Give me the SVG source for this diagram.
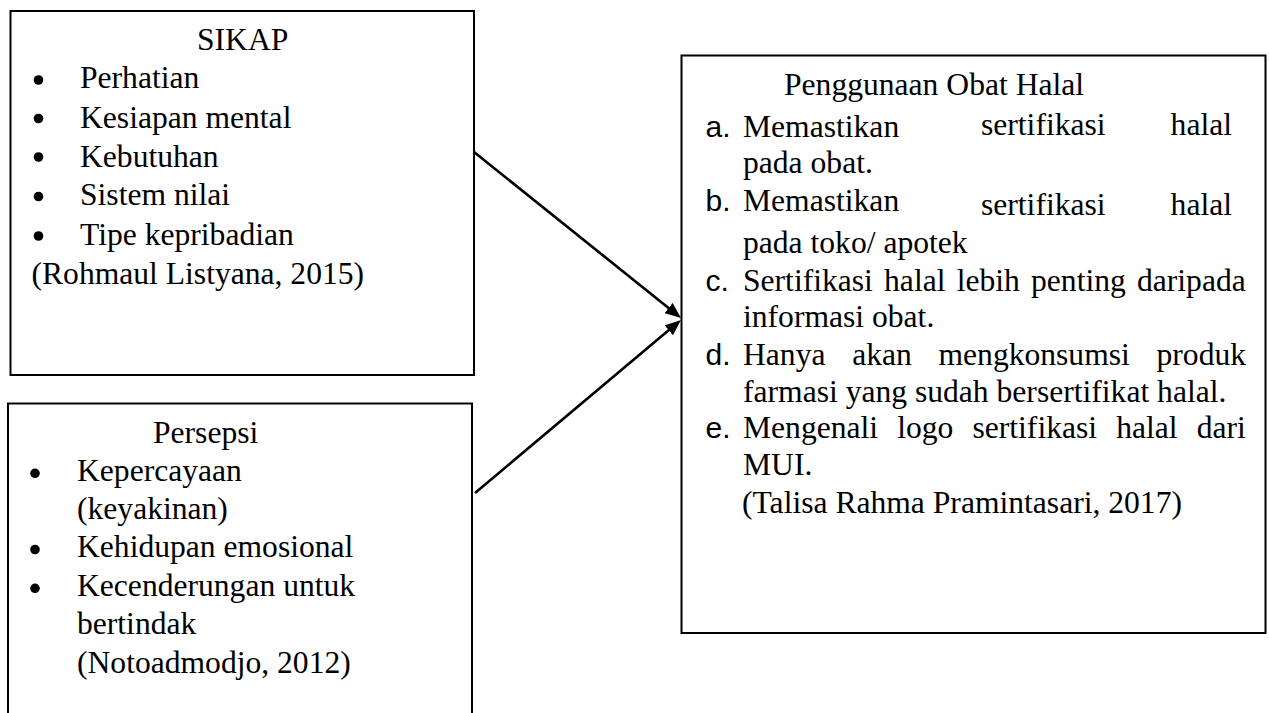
<svg xmlns="http://www.w3.org/2000/svg" width="1269" height="713" viewBox="0 0 1269 713">
<defs>
<style>
.box{fill:#fff;stroke:#000;stroke-width:2}
.t{font-family:"Liberation Serif","Times New Roman",serif;font-size:31.6px;fill:#000}
.s{font-family:"Liberation Sans",Arial,sans-serif;font-size:30px;fill:#000}
.b{fill:#000}
.conn{stroke:#000;stroke-width:2.6;fill:none}
</style>
<marker id="ah" viewBox="0 0 16 13" markerWidth="16" markerHeight="13" refX="8" refY="6.5" orient="auto" markerUnits="userSpaceOnUse">
<path d="M0,0 L16,6.5 L0,13 z" fill="#000"/>
</marker>
</defs>
<rect width="1269" height="713" fill="#fff"/>
<g id="sikap">
<rect class="box" x="10.5" y="11" width="463.5" height="364"/>
<text class="t" x="197" y="50">SIKAP</text>
<circle class="b" cx="38.5" cy="80" r="4.8"/>
<circle class="b" cx="38.5" cy="118.5" r="4.8"/>
<circle class="b" cx="38.5" cy="157" r="4.8"/>
<circle class="b" cx="38.5" cy="196.5" r="4.8"/>
<circle class="b" cx="38.5" cy="236" r="4.8"/>
<text class="t" x="80" y="88">Perhatian</text>
<text class="t" x="80" y="127.5">Kesiapan mental</text>
<text class="t" x="80" y="166.5">Kebutuhan</text>
<text class="t" x="80" y="205">Sistem nilai</text>
<text class="t" x="80" y="245">Tipe kepribadian</text>
<text class="t" x="31.5" y="283.5">(Rohmaul Listyana, 2015)</text>
</g>
<g id="persepsi">
<path class="box" d="M8,714 L8,403.5 L472,403.5 L472,714"/>
<text class="t" x="153" y="443">Persepsi</text>
<circle class="b" cx="35" cy="473.3" r="4.8"/>
<circle class="b" cx="35" cy="549.5" r="4.8"/>
<circle class="b" cx="35" cy="588.3" r="4.8"/>
<text class="t" x="77" y="481">Kepercayaan</text>
<text class="t" x="77" y="518.5">(keyakinan)</text>
<text class="t" x="77" y="557">Kehidupan emosional</text>
<text class="t" x="77" y="595.5">Kecenderungan untuk</text>
<text class="t" x="77" y="634">bertindak</text>
<text class="t" x="77" y="673">(Notoadmodjo, 2012)</text>
</g>
<g id="penggunaan">
<rect class="box" x="681.5" y="55.5" width="584" height="577.5"/>
<text class="t" x="784" y="95">Penggunaan Obat Halal</text>
<text class="s" x="705.5" y="136.5">a.</text>
<text class="t" x="743" y="136.5">Memastikan</text>
<text class="t" x="981" y="134.5">sertifikasi</text>
<text class="t" x="1232" y="134.5" text-anchor="end">halal</text>
<text class="t" x="743" y="173">pada obat.</text>
<text class="s" x="705.5" y="210.5">b.</text>
<text class="t" x="743" y="210.5">Memastikan</text>
<text class="t" x="981" y="215">sertifikasi</text>
<text class="t" x="1232" y="215" text-anchor="end">halal</text>
<text class="t" x="743" y="253">pada toko/ apotek</text>
<text class="s" x="705.5" y="290.5">c.</text>
<text class="t" x="743" y="290.5" word-spacing="3.3">Sertifikasi halal lebih penting daripada</text>
<text class="t" x="743" y="327">informasi obat.</text>
<text class="s" x="705.5" y="365">d.</text>
<text class="t" x="743" y="365" word-spacing="18.8">Hanya akan mengkonsumsi produk</text>
<text class="t" x="743" y="401.5">farmasi yang sudah bersertifikat halal.</text>
<text class="s" x="705.5" y="438">e.</text>
<text class="t" x="743" y="438" word-spacing="11.2">Mengenali logo sertifikasi halal dari</text>
<text class="t" x="743" y="475">MUI.</text>
<text class="t" x="742" y="513">(Talisa Rahma Pramintasari, 2017)</text>
</g>
<g id="connectors">
<line class="conn" x1="474" y1="152" x2="674.8" y2="313" marker-end="url(#ah)"/>
<line class="conn" x1="475" y1="493" x2="674.9" y2="325.1" marker-end="url(#ah)"/>
</g>
</svg>
